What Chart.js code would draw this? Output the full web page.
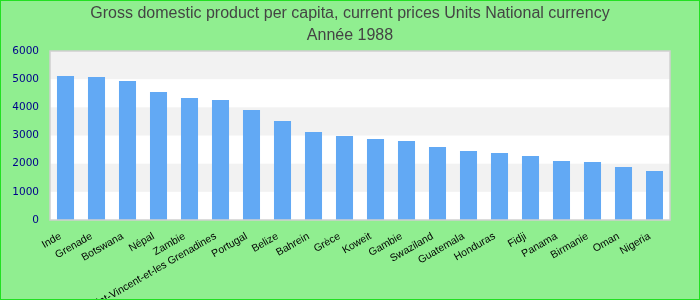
<!DOCTYPE html>
<html>
<head>
<meta charset="utf-8">
<script src="https://cdn.jsdelivr.net/npm/chart.js@4"></script>
<style>
  html, body { margin: 0; padding: 0; background: #90ee90; }
  #wrap { width: 700px; height: 300px; }
</style>
</head>
<body>
<div id="wrap"><canvas id="gdpChart"></canvas></div>
<script>
// data
const countries = ["Inde", "Grenade", "Botswana", "Népal", "Zambie",
    "Saint-Vincent-et-les Grenadines", "Portugal", "Belize", "Bahrein", "Grèce",
    "Koweit", "Gambie", "Swaziland", "Guatemala", "Honduras",
    "Fidji", "Panama", "Birmanie", "Oman", "Nigeria"];
const gdpValues = [5110, 5075, 4935, 4545, 4330,
    4260, 3905, 3515, 3125, 2985,
    2875, 2805, 2590, 2450, 2380,
    2270, 2095, 2060, 1880, 1740];
const titleLines = ["Gross domestic product per capita, current prices Units National currency", "Année 1988"];
const yTicks = [0, 1000, 2000, 3000, 4000, 5000, 6000];

// background, bands and borders
const backdrop = {
    id: "backdrop",
    beforeDraw(chart) {
        const ctx = chart.ctx;
        const area = chart.chartArea;
        const y = chart.scales.y;
        ctx.save();
        ctx.fillStyle = "#90ee90";
        ctx.fillRect(0, 0, chart.width, chart.height);
        ctx.fillStyle = "#ffffff";
        ctx.fillRect(area.left, area.top, area.right - area.left, area.bottom - area.top);
        ctx.fillStyle = "#f2f2f2";
        for (let i = 1; i < yTicks.length; i += 2) {
            const top = y.getPixelForValue(yTicks[i + 1] !== undefined ? yTicks[i + 1] : yTicks[i]);
            const bottom = y.getPixelForValue(yTicks[i]);
            ctx.fillRect(area.left, top, area.right - area.left, bottom - top);
        }
        ctx.restore();
    },
    afterDraw(chart) {
        const ctx = chart.ctx;
        const area = chart.chartArea;
        ctx.save();
        ctx.strokeStyle = "#d0d0d0";
        ctx.lineWidth = 1.5;
        ctx.strokeRect(area.left, area.top, area.right - area.left, area.bottom - area.top);
        ctx.strokeStyle = "#22e022";
        ctx.lineWidth = 2;
        ctx.strokeRect(0, 0, chart.width, chart.height);
        ctx.restore();
    }
};

new Chart("gdpChart", {
    type: "bar",
    data: {
        labels: countries,
        datasets: [{
            data: gdpValues,
            backgroundColor: "#62a9f4",
            barPercentage: 0.55,
            categoryPercentage: 1
        }]
    },
    options: {
        responsive: true,
        maintainAspectRatio: false,
        animation: false,
        layout: { padding: 0 },
        plugins: {
            legend: { display: false },
            tooltip: { enabled: false },
            title: {
                display: true,
                text: titleLines,
                color: "#444444",
                font: { family: "Liberation Sans, Arial", size: 16, weight: "normal", lineHeight: 1.375 },
                padding: { top: 3, bottom: 4 }
            }
        },
        scales: {
            x: {
                grid: { display: false },
                border: { display: false },
                ticks: {
                    autoSkip: false,
                    minRotation: 30,
                    maxRotation: 30,
                    color: "#000000",
                    padding: 2,
                    labelOffset: -5,
                    font: { family: "Liberation Sans, Arial", size: 10.5 }
                },
                afterFit(scale) { scale.height = 80; }
            },
            y: {
                min: 0,
                max: 6000,
                grid: { display: false },
                border: { display: false },
                afterBuildTicks(scale) { scale.ticks = yTicks.map(v => ({ value: v })); },
                ticks: {
                    color: "#00008b",
                    padding: 3,
                    font: { family: "DejaVu Sans", size: 10.5 },
                    callback: v => String(v)
                },
                afterFit(scale) { scale.width = 50; }
            },
            // empty right-hand margin so the title centres on the whole canvas
            yRight: {
                position: "right",
                grid: { display: false },
                border: { display: false },
                ticks: { display: false },
                afterFit(scale) { scale.width = 30; }
            }
        }
    },
    plugins: [backdrop]
});
</script>
</body>
</html>
